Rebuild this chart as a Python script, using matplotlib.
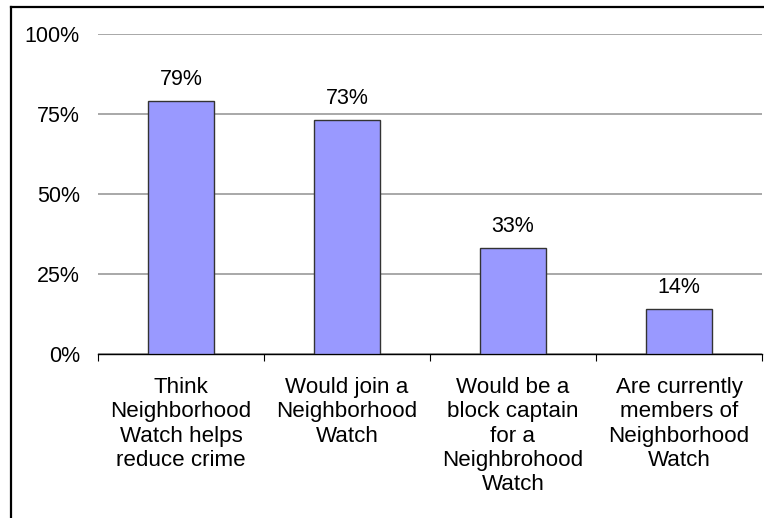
import matplotlib

matplotlib.use("Agg")
import matplotlib.pyplot as plt
from matplotlib.lines import Line2D

categories = [
    "Think\nNeighborhood\nWatch helps\nreduce crime",
    "Would join a\nNeighborhood\nWatch",
    "Would be a\nblock captain\nfor a\nNeighbrohood\nWatch",
    "Are currently\nmembers of\nNeighborhood\nWatch",
]
values = [79, 73, 33, 14]
yticks = [0, 25, 50, 75, 100]

plt.rcParams["font.family"] = ["Liberation Sans", "DejaVu Sans"]
fs = 15.5
fs_cat = 16.1

fig = plt.figure(figsize=(7.64, 5.18), dpi=100)
ax = fig.add_axes([98 / 764, 1 - 354 / 518, 664 / 764, 320 / 518])

x = list(range(len(values)))
ax.bar(x, values, width=0.4, color="#9999FF", edgecolor="#333333", linewidth=1, zorder=3)
for xi, v in zip(x, values):
    ax.annotate(f"{v}%", (xi, v), xytext=(0, 8), textcoords="offset points",
                ha="center", va="bottom", fontsize=fs)

ax.set_xlim(-0.5, len(values) - 0.5)
ax.set_ylim(0, 100)
ax.set_yticks(yticks)
ax.set_yticklabels([f"{t}%" for t in yticks], fontsize=fs)
ax.yaxis.grid(True, color="#999999", linewidth=1.2, zorder=0)
ax.tick_params(axis="y", length=0, pad=13)

# category boundaries get the tick marks, labels sit under the bars
ax.set_xticks([i - 0.5 for i in range(len(values) + 1)])
ax.set_xticklabels([""] * (len(values) + 1))
ax.set_xticks(x, minor=True)
ax.set_xticklabels(categories, minor=True, fontsize=fs_cat, linespacing=1.21)
ax.tick_params(axis="x", which="major", length=5, direction="out", color="black")
ax.tick_params(axis="x", which="minor", length=0, pad=16.5)

for s in ["top", "right", "left"]:
    ax.spines[s].set_visible(False)
ax.spines["bottom"].set_color("black")
ax.spines["bottom"].set_linewidth(1)

# outer chart frame (only top and left edges visible)
fig.add_artist(Line2D([11 / 764, 1], [1 - 6.5 / 518, 1 - 6.5 / 518], color="black", linewidth=1.6))
fig.add_artist(Line2D([11 / 764, 11 / 764], [0, 1 - 6.5 / 518], color="black", linewidth=1.6))

fig.savefig("out.png", dpi=100)
